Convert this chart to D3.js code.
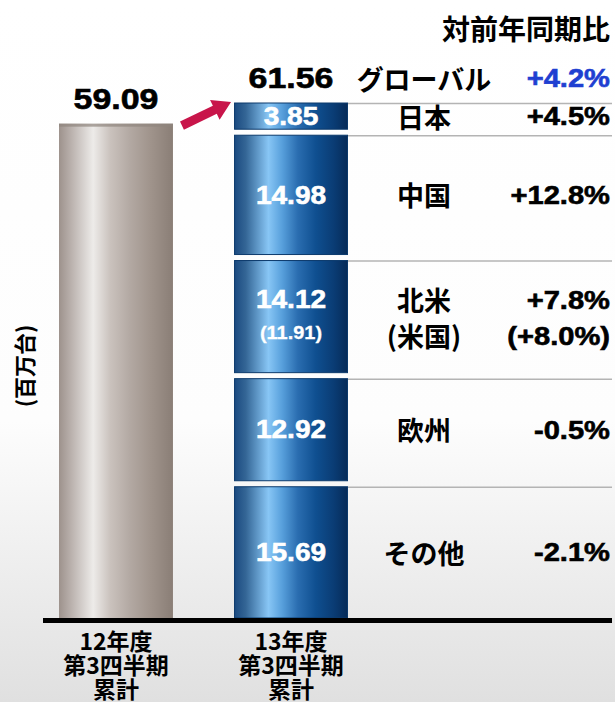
<!DOCTYPE html>
<html>
<head>
<meta charset="utf-8">
<script src="https://cdn.jsdelivr.net/npm/d3@7"></script>
<style>
body { margin: 0; background: #fff; }
svg { display: block; }
</style>
</head>
<body>
<div id="chart"></div>
<script>
var periodNames = ["12年度", "13年度"];
var periodLines = [["12年度", "第3四半期", "累計"], ["13年度", "第3四半期", "累計"]];
var totals = [59.09, 61.56];

var regionNames = ["日本", "中国", "北米", "欧州", "その他"];
var regionNotes = ["", "", "(米国)", "", ""];
var regionValues = [3.85, 14.98, 14.12, 12.92, 15.69];
var regionNoteValues = [null, null, 11.91, null, null];
var growthLabels = ["+4.5%", "+12.8%", "+7.8%", "-0.5%", "-2.1%"];
var growthNotes = ["", "", "(+8.0%)", "", ""];

var globalName = "グローバル";
var globalGrowth = "+4.2%";
var growthTitle = "対前年同期比";
var unitLabel = "(百万台)";

var chartSize = { width: 615, height: 702 };
var baseY = 618;
var labelX = 424;
var growthX = 610;
var segGap = 6;

var latinFont = '"Liberation Sans", Arial, "Noto Sans CJK JP", sans-serif';
var cjkFont = '"Noto Sans CJK JP", "Noto Sans", sans-serif';

var svg = d3.select("#chart").append("svg")
    .attr("width", chartSize.width)
    .attr("height", chartSize.height);

var defs = svg.append("defs");

var bgGrad = defs.append("linearGradient").attr("id", "bgGrad")
    .attr("x1", 0).attr("x2", 0).attr("y1", 0).attr("y2", 1);
[[0, "#ffffff"], [0.6, "#fdfdfd"], [1, "#e0e0e0"]].forEach(function(s) {
    bgGrad.append("stop").attr("offset", s[0]).attr("stop-color", s[1]);
});

var blueGrad = defs.append("linearGradient").attr("id", "blueGrad");
[[0, "#1b4a80"], [0.1, "#346696"], [0.3, "#88c6f5"], [0.42, "#58a0dc"],
 [0.56, "#2a6db0"], [0.72, "#0f4f90"], [0.88, "#0a3c74"], [1, "#062b58"]].forEach(function(s) {
    blueGrad.append("stop").attr("offset", s[0]).attr("stop-color", s[1]);
});

var greyGrad = defs.append("linearGradient").attr("id", "greyGrad");
[[0, "#9d928c"], [0.1, "#b8afab"], [0.3, "#edebe9"], [0.45, "#cac2bd"],
 [0.62, "#b3a9a3"], [0.8, "#a0948c"], [1, "#8a7e76"]].forEach(function(s) {
    greyGrad.append("stop").attr("offset", s[0]).attr("stop-color", s[1]);
});

svg.append("rect")
    .attr("width", chartSize.width)
    .attr("height", chartSize.height)
    .attr("fill", "url(#bgGrad)");

var x = d3.scaleBand()
    .domain(periodNames)
    .range([59, 348])
    .paddingInner(0.349)
    .paddingOuter(0);

var y = d3.scaleLinear()
    .domain([0, d3.sum(regionValues)])
    .range([baseY, 103]);

function latin(g, px, py, str, size, anchor, sx, fill) {
    fill = fill || "#000";
    return g.append("text")
        .attr("transform", "translate(" + px + "," + py + ") scale(" + sx + ",1)")
        .attr("text-anchor", anchor)
        .attr("dominant-baseline", "central")
        .style("font-family", latinFont)
        .style("font-weight", "bold")
        .style("font-size", size + "px")
        .attr("fill", fill)
        .attr("stroke", fill)
        .attr("stroke-width", 0.6)
        .text(str);
}

function cjk(g, px, py, str, size, anchor) {
    return g.append("text")
        .attr("x", px)
        .attr("y", py)
        .attr("text-anchor", anchor)
        .attr("dominant-baseline", "central")
        .style("font-family", cjkFont)
        .style("font-weight", "bold")
        .style("font-size", size + "px")
        .attr("fill", "#000")
        .text(str);
}

// stack from the bottom (その他) up to 日本
var segments = [];
var cum = 0;
for (var i = regionValues.length - 1; i >= 0; i--) {
    segments[i] = { name: regionNames[i], value: regionValues[i], y0: cum, y1: cum + regionValues[i], idx: i };
    cum += regionValues[i];
}

var bw = x.bandwidth();
var x12 = x(periodNames[0]);
var x13 = x(periodNames[1]);

// separator lines
svg.selectAll(".sep").data(segments).enter().append("line")
    .attr("x1", x13 + bw)
    .attr("x2", 612)
    .attr("y1", function(d) { return y(d.y1) + 0.5; })
    .attr("y2", function(d) { return y(d.y1) + 0.5; })
    .attr("stroke", "#b4b4b4")
    .attr("stroke-width", 1.5);

// 12年度 bar
svg.append("rect")
    .attr("x", x12)
    .attr("y", y(totals[0]))
    .attr("width", bw)
    .attr("height", baseY - y(totals[0]))
    .attr("fill", "url(#greyGrad)");
svg.append("rect")
    .attr("x", x12)
    .attr("y", y(totals[0]))
    .attr("width", bw)
    .attr("height", 3)
    .attr("fill", "#8f847e")
    .attr("opacity", 0.7);

// 13年度 stacked segments
svg.selectAll(".seg").data(segments).enter().append("rect")
    .attr("class", "seg")
    .attr("x", x13 + 0.5)
    .attr("y", function(d) { return y(d.y1); })
    .attr("width", bw - 1)
    .attr("height", function(d) { return y(d.y0) - y(d.y1) - (d.y0 > 0 ? segGap : 0); })
    .attr("fill", "url(#blueGrad)")
    .attr("stroke", "#0c3a6c")
    .attr("stroke-width", 1);

// segment texts
segments.forEach(function(d) {
    var top = y(d.y1);
    var bot = y(d.y0) - (d.y0 > 0 ? segGap : 0);
    var mid = (top + bot) / 2;
    var cx = x13 + bw / 2;
    if (regionNoteValues[d.idx] !== null) {
        latin(svg, cx, mid - 17, d3.format(".2f")(d.value), 26, "middle", 1.08, "#fff");
        latin(svg, cx, mid + 16, "(" + d3.format(".2f")(regionNoteValues[d.idx]) + ")", 19, "middle", 1.05, "#fff")
            .attr("stroke-width", 0.3);
        cjk(svg, labelX, mid - 17, d.name, 27, "middle");
        cjk(svg, labelX, mid + 19, regionNotes[d.idx], 27, "middle");
        latin(svg, growthX, mid - 17, growthLabels[d.idx], 26, "end", 1.12);
        latin(svg, growthX, mid + 19, growthNotes[d.idx], 26, "end", 1.12);
    } else {
        latin(svg, cx, mid, d3.format(".2f")(d.value), 26, "middle", 1.08, "#fff");
        cjk(svg, labelX, mid, d.name, 27, "middle");
        latin(svg, growthX, mid, growthLabels[d.idx], 26, "end", 1.12);
    }
});

// totals
totals.forEach(function(t, i) {
    latin(svg, x(periodNames[i]) + bw / 2, y(t) - 25, d3.format(".2f")(t), 29, "middle", 1.17);
});

// global row + header
cjk(svg, labelX, y(totals[1]) - 25, globalName, 27, "middle");
latin(svg, growthX, y(totals[1]) - 25, globalGrowth, 26, "end", 1.12, "#1f3fd1");
cjk(svg, growthX, 28, growthTitle, 28, "end");

// arrow from 12年度 to 13年度
var ax = x12 + bw + 9, ay = y(totals[0]) + 2;
var bx = x13 - 3, by = y(totals[1]) - 1;
var len = Math.hypot(bx - ax, by - ay);
var ang = Math.atan2(by - ay, bx - ax) * 180 / Math.PI;
svg.append("path")
    .attr("d", "M0,-4.5 L" + (len - 18) + ",-4.5 L" + (len - 18) + ",-11 L" + len + ",0 L" +
        (len - 18) + ",11 L" + (len - 18) + ",4.5 L0,4.5 Z")
    .attr("transform", "translate(" + ax + "," + ay + ") rotate(" + ang + ")")
    .attr("fill", "#c8154a");

// baseline
svg.append("line")
    .attr("x1", 43).attr("x2", 612)
    .attr("y1", baseY + 2.5).attr("y2", baseY + 2.5)
    .attr("stroke", "#000")
    .attr("stroke-width", 5);

// category labels, one text block per bar
periodLines.forEach(function(lines, i) {
    var cx = x(periodNames[i]) + bw / 2;
    var t = svg.append("text")
        .attr("text-anchor", "middle")
        .style("font-family", cjkFont)
        .style("font-weight", "bold")
        .style("font-size", "23px")
        .attr("fill", "#000");
    lines.forEach(function(s, j) {
        t.append("tspan")
            .attr("x", cx)
            .attr("y", 650 + j * 24)
            .text(s);
    });
});

// unit label
cjk(svg, 0, 0, unitLabel, 22, "middle")
    .attr("transform", "translate(23,366) rotate(-90)");
</script>
</body>
</html>
